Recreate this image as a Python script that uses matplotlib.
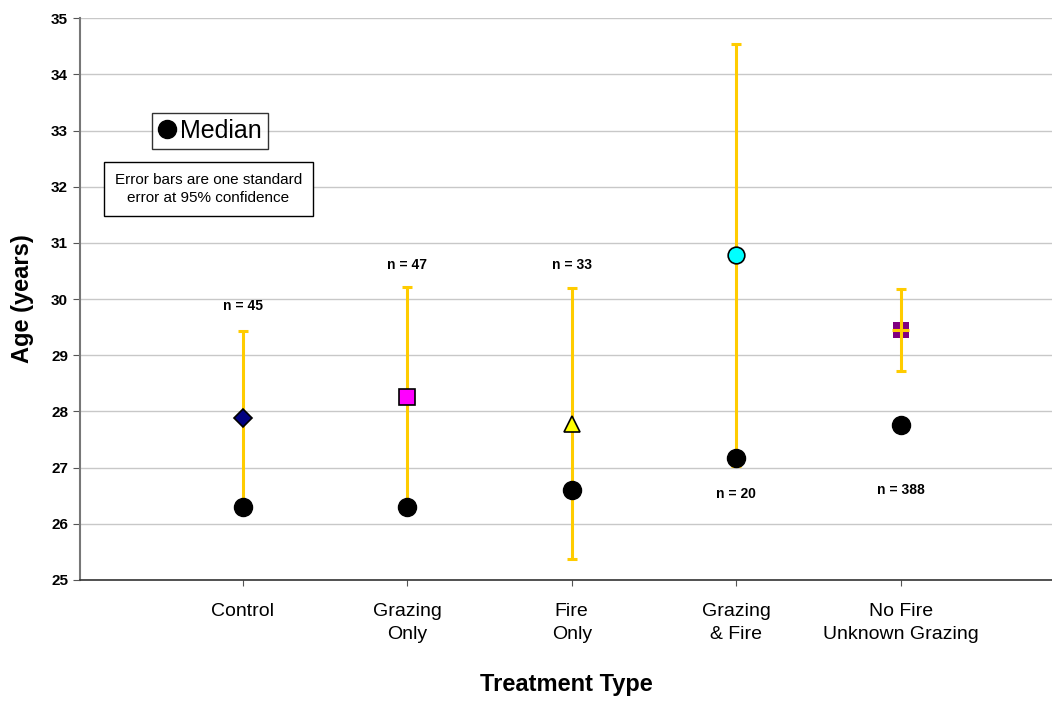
import matplotlib
matplotlib.use("Agg")
import matplotlib.pyplot as plt
from matplotlib.lines import Line2D

plt.rcParams["font.family"] = ["Liberation Sans", "DejaVu Sans"]

categories = ["Control", "Grazing\nOnly", "Fire\nOnly", "Grazing\n& Fire", "No Fire\nUnknown Grazing"]
means = [27.88, 28.26, 27.78, 30.78, 29.45]
errors = [1.55, 1.95, 2.41, 3.76, 0.73]
medians = [26.30, 26.30, 26.60, 27.17, 27.76]
n_labels = ["n = 45", "n = 47", "n = 33", "n = 20", "n = 388"]
n_label_y = [29.88, 30.6, 30.6, 26.52, 26.6]

markers = ["D", "s", "^", "o", "s"]
face_colors = ["#000080", "#FF00FF", "#FFFF00", "#00FFFF", "#800080"]
edge_colors = ["black", "black", "black", "black", "none"]
marker_sizes = [9, 11, 11, 12, 12]
gold = "#FFCC00"

fig = plt.figure(figsize=(10.52, 7.02), dpi=100)
ax = fig.add_axes([0.076, 0.174, 0.924, 0.8])

x = list(range(len(categories)))

for i in x:
    # the last series has its bar drawn over the marker
    bar_z = 4 if i == 4 else 2
    ax.errorbar(i, means[i], yerr=errors[i], fmt="none", ecolor=gold,
                elinewidth=2.2, capsize=3.6, capthick=2.2, zorder=bar_z)
    ax.plot(i, means[i], marker=markers[i], markersize=marker_sizes[i],
            markerfacecolor=face_colors[i], markeredgecolor=edge_colors[i],
            markeredgewidth=1.2, linestyle="none", zorder=3)
    ax.text(i, n_label_y[i], n_labels[i], ha="center", va="center",
            fontsize=10, fontweight="bold")

ax.errorbar(4, means[4], xerr=0.05, fmt="none", ecolor=gold, elinewidth=2.2, zorder=4)

ax.plot(x, medians, "o", color="black", markersize=13, zorder=5)

ax.set_ylim(25, 35)
ax.set_xlim(-0.99, 4.92)
ax.set_yticks(range(25, 36))
ax.set_xticks(x)
ax.set_xticklabels(categories, fontsize=14, linespacing=1.4)
ax.tick_params(axis="x", length=4, pad=13, color="#555555")
ax.tick_params(axis="y", length=5, labelsize=11, color="#555555")
for lab in ax.get_yticklabels():
    lab.set_fontweight("bold")

ax.yaxis.grid(True, color="#c8c8c8", linewidth=1)
ax.set_axisbelow(True)
for side in ["top", "right"]:
    ax.spines[side].set_visible(False)
ax.spines["left"].set_color("#777777")
ax.spines["left"].set_linewidth(1.5)
ax.spines["bottom"].set_color("#333333")
ax.spines["bottom"].set_linewidth(1.2)

ax.set_ylabel("Age (years)", fontsize=17, fontweight="bold", labelpad=12)
ax.set_xlabel("Treatment Type", fontsize=17, fontweight="bold", labelpad=22)

# legend for the median marker
handle = Line2D([], [], marker="o", color="black", linestyle="none", markersize=13)
leg = ax.legend([handle], ["Median"], loc="center", bbox_to_anchor=(-0.2, 32.99),
                bbox_transform=ax.transData, fontsize=18, frameon=True, fancybox=False,
                handlelength=0.7, handletextpad=0.2, borderpad=0.25, borderaxespad=0)
leg.get_frame().set_edgecolor("black")
leg.get_frame().set_linewidth(1)

ax.text(-0.21, 31.96, "Error bars are one standard\nerror at 95% confidence", fontsize=11,
        ha="center", va="center", linespacing=1.4,
        bbox=dict(boxstyle="square,pad=0.7", facecolor="white", edgecolor="black", linewidth=1))

fig.savefig("out.png", dpi=100)
